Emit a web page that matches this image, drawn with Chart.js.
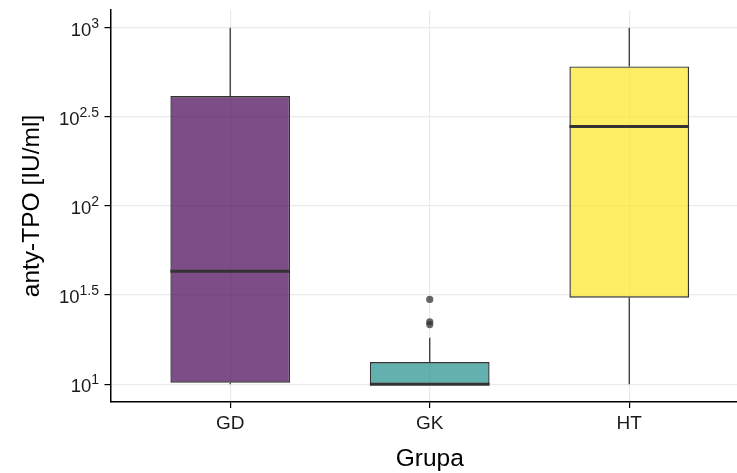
<!DOCTYPE html>
<html>
<head>
<meta charset="utf-8">
<script src="https://cdn.jsdelivr.net/npm/chart.js@4/dist/chart.umd.min.js"></script>
<style>
  html, body { margin: 0; padding: 0; background: #ffffff; }
  #wrap { width: 737px; height: 473px; position: relative; }
</style>
</head>
<body>
<div id="wrap"><canvas id="c" width="737" height="473"></canvas></div>
<script>
// Box-plot summary per group (IU/ml)
const groups = ['GD', 'GK', 'HT'];
const whiskerLow = [10, 10, 10];
const q1 = [10.2, 10, 30.6];
const median = [43, 10, 279];
const q3 = [414, 13.3, 607];
const whiskerHigh = [1000, 18.2, 1000];

// Points beyond the whiskers
const outlierGroup = ['GK', 'GK', 'GK'];
const outlierValues = [29.9, 22.4, 21.6];

// Y tick labels are powers of ten: 10^exp
const yTickExponents = [1, 1.5, 2, 2.5, 3];
const yTickExpText = ['1', '1.5', '2', '2.5', '3'];

const fillColors = ['rgba(68,1,84,0.7)', 'rgba(33,144,140,0.7)', 'rgba(253,231,37,0.7)'];
const lineColor = '#333333';
const FONT = 'Liberation Sans, Arial, Helvetica, sans-serif';

const boxData = groups.map((g, i) => ({ x: i + 1, y: [q1[i], q3[i]] }));
const outlierData = outlierValues.map((v, i) => ({ x: groups.indexOf(outlierGroup[i]) + 1, y: v }));

// Whiskers (under the boxes), medians and axis text (on top)
const boxPlotExtras = {
  id: 'boxPlotExtras',
  beforeDatasetsDraw(chart) {
    const { ctx, scales: { x, y } } = chart;
    ctx.save();
    ctx.strokeStyle = lineColor;
    ctx.lineWidth = 1.3;
    groups.forEach((g, i) => {
      const px = x.getPixelForValue(i + 1);
      ctx.beginPath();
      ctx.moveTo(px, y.getPixelForValue(q3[i]));
      ctx.lineTo(px, y.getPixelForValue(whiskerHigh[i]));
      ctx.moveTo(px, y.getPixelForValue(q1[i]));
      ctx.lineTo(px, y.getPixelForValue(whiskerLow[i]));
      ctx.stroke();
    });
    ctx.restore();
  },
  afterDatasetsDraw(chart) {
    const { ctx, scales: { y } } = chart;
    const meta = chart.getDatasetMeta(0);
    ctx.save();
    ctx.strokeStyle = lineColor;
    ctx.lineWidth = 3;
    meta.data.forEach((bar, i) => {
      const half = bar.width / 2;
      const py = y.getPixelForValue(median[i]);
      ctx.beginPath();
      ctx.moveTo(bar.x - half, py);
      ctx.lineTo(bar.x + half, py);
      ctx.stroke();
    });
    ctx.restore();
  },
  afterDraw(chart) {
    const { ctx, scales: { x, y }, chartArea } = chart;
    ctx.save();
    ctx.fillStyle = '#1a1a1a';
    ctx.textBaseline = 'middle';
    // y tick labels with superscript exponents
    const right = chartArea.left - 11.5;
    yTickExponents.forEach((e, i) => {
      const py = y.getPixelForValue(Math.pow(10, e));
      ctx.font = '14px ' + FONT;
      const ew = ctx.measureText(yTickExpText[i]).width;
      ctx.textAlign = 'right';
      ctx.fillText(yTickExpText[i], right, py - 4);
      ctx.font = '18.5px ' + FONT;
      ctx.fillText('10', right - ew, py + 3);
    });
    // x tick labels
    ctx.font = '19px ' + FONT;
    ctx.textAlign = 'center';
    groups.forEach((g, i) => {
      ctx.fillText(g, x.getPixelForValue(i + 1), chartArea.bottom + 22);
    });
    // axis titles
    ctx.fillStyle = '#000000';
    ctx.font = '24.5px ' + FONT;
    ctx.fillText('Grupa', x.getPixelForValue(2), 459);
    ctx.translate(32, (chartArea.top + chartArea.bottom) / 2);
    ctx.rotate(-Math.PI / 2);
    ctx.fillText('anty-TPO [IU/ml]', 0, 0);
    ctx.restore();
  }
};

new Chart(document.getElementById('c'), {
  type: 'bar',
  data: {
    datasets: [
      {
        type: 'bar',
        data: boxData,
        backgroundColor: fillColors,
        borderColor: lineColor,
        borderWidth: 1.4,
        borderSkipped: false,
        barPercentage: 0.6,
        categoryPercentage: 1.0,
        order: 2
      },
      {
        type: 'scatter',
        data: outlierData,
        pointRadius: 3.6,
        pointHoverRadius: 3.6,
        pointBackgroundColor: 'rgba(51,51,51,0.75)',
        pointBorderWidth: 0,
        order: 1
      }
    ]
  },
  options: {
    responsive: false,
    devicePixelRatio: 1,
    animation: false,
    layout: { autoPadding: false, padding: { top: 10, right: 0, left: 0, bottom: 0 } },
    plugins: { legend: { display: false }, tooltip: { enabled: false } },
    scales: {
      x: {
        type: 'linear',
        offset: false,
        min: 0.4,
        max: 3.54,
        afterBuildTicks(scale) { scale.ticks = groups.map((g, i) => ({ value: i + 1 })); },
        afterFit(scale) { scale.height = 71; scale.paddingLeft = 0; scale.paddingRight = 0; },
        ticks: { autoSkip: false, maxRotation: 0, padding: 0, callback: () => '' },
        grid: { offset: false, color: '#ebebeb', lineWidth: 1.2, tickColor: '#000000', tickLength: 6 },
        border: { display: true, color: '#000000', width: 1.5 }
      },
      y: {
        type: 'logarithmic',
        min: Math.pow(10, 0.9),
        max: Math.pow(10, 3.1),
        afterBuildTicks(scale) { scale.ticks = yTickExponents.map(e => ({ value: Math.pow(10, e) })); },
        afterFit(scale) { scale.width = 110.5; scale.paddingTop = 0; scale.paddingBottom = 0; },
        ticks: { autoSkip: false, padding: 0, callback: () => '' },
        grid: { color: '#ebebeb', lineWidth: 1.2, tickColor: '#000000', tickLength: 6 },
        border: { display: true, color: '#000000', width: 1.5 }
      }
    }
  },
  plugins: [boxPlotExtras]
});
</script>
</body>
</html>
